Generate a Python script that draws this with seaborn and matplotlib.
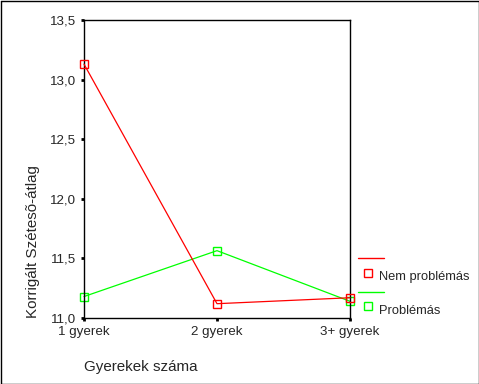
import matplotlib
matplotlib.use("Agg")
import matplotlib.pyplot as plt
import seaborn as sns
import pandas as pd
from matplotlib.lines import Line2D

categories = ["1 gyerek", "2 gyerek", "3+ gyerek"]
nem_problemas = [13.13, 11.12, 11.17]
problemas = [11.18, 11.565, 11.14]
series_names = ["Nem problémás", "Problémás"]
yticks = [11.0, 11.5, 12.0, 12.5, 13.0, 13.5]
ytick_labels = ["11,0", "11,5", "12,0", "12,5", "13,0", "13,5"]

df = pd.DataFrame({
    "Gyerekek száma": categories * 2,
    "value": nem_problemas + problemas,
    "group": [series_names[0]] * 3 + [series_names[1]] * 3,
})

sns.set_style("white")
plt.rcParams["font.family"] = ["Liberation Sans", "DejaVu Sans"]

W, H = 479, 384
fig = plt.figure(figsize=(W / 100, H / 100), dpi=100)
ax = fig.add_axes([84 / W, 1 - 318 / H, (350 - 84) / W, (318 - 20) / H])

colors = {"Nem problémás": "#ff0000", "Problémás": "#00ff00"}
MS = 5.2
for name, z in [("Problémás", 2), ("Nem problémás", 3)]:
    sub = df[df["group"] == name]
    sns.lineplot(data=sub, x="Gyerekek száma", y="value", ax=ax, color=colors[name],
                 marker="s", markersize=MS, markerfacecolor="none",
                 markeredgecolor=colors[name], markeredgewidth=1.0,
                 linewidth=0.9, zorder=z, sort=False, legend=False, clip_on=False)

ax.set_xlim(0, 2)
ax.set_ylim(11.0, 13.5)
ax.set_yticks(yticks)
ax.set_yticklabels(ytick_labels)
ax.set_xticks(range(len(categories)))
ax.set_xticklabels(categories)
ax.tick_params(axis="both", which="both", direction="out", length=2.5, width=2,
               color="black", labelsize=9.6, pad=3, left=True, bottom=True)
for s in ax.spines.values():
    s.set_visible(True)
    s.set_color("black")
    s.set_linewidth(1.0)

ax.set_xlabel("Gyerekek száma", fontsize=10.9, loc="left", labelpad=16)
ax.set_ylabel("Korrigált Szétesõ-átlag", fontsize=10.9, loc="bottom", labelpad=7)


def fx(x):
    return x / W


def fy(y):
    return 1 - y / H


legend_rows = [(series_names[0], colors[series_names[0]], 258),
               (series_names[1], colors[series_names[1]], 291.5)]
for name, col, ly in legend_rows:
    fig.add_artist(Line2D([fx(358), fx(384)], [fy(ly), fy(ly)], color=col,
                          linewidth=1.0, transform=fig.transFigure))
    fig.add_artist(Line2D([fx(368)], [fy(ly + 14.5)], color=col, marker="s",
                          markersize=MS, markerfacecolor="none", markeredgecolor=col,
                          linestyle="none", transform=fig.transFigure))
    fig.text(fx(379), fy(ly + 19), name, fontsize=9.3, ha="left", va="center")

# figure border
bx = [fx(0.5), fx(478.5), fx(478.5), fx(0.5), fx(0.5)]
by = [fy(0.5), fy(0.5), fy(383.5), fy(383.5), fy(0.5)]
fig.add_artist(Line2D(bx, by, color="black", linewidth=1.0, transform=fig.transFigure))

fig.savefig("out.png", dpi=100)
